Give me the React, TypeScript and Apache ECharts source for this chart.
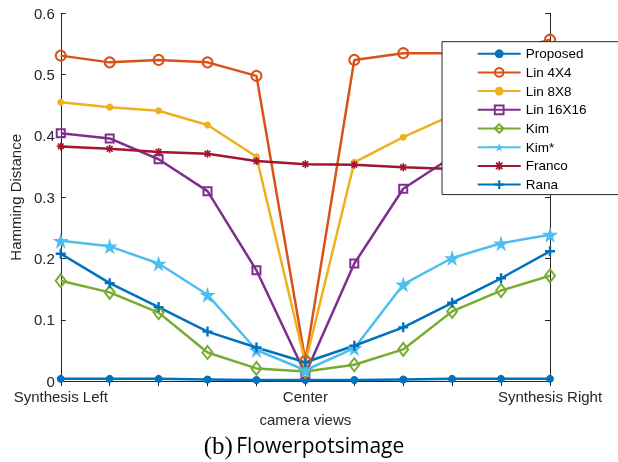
import React, { useEffect, useRef } from "react";
import * as echarts from "echarts";

// Camera view positions along the x axis (only three are labelled)
const views = ["Synthesis Left", "", "", "", "", "Center", "", "", "", "", "Synthesis Right"];

// Hamming distance per method
const proposed = [0.004, 0.004, 0.004, 0.003, 0.002, 0.002, 0.002, 0.003, 0.004, 0.004, 0.004];
const lin4 = [0.531, 0.52, 0.524, 0.52, 0.498, 0.033, 0.524, 0.535, 0.535, 0.536, 0.557];
const lin8 = [0.455, 0.447, 0.441, 0.418, 0.366, 0.03, 0.357, 0.398, 0.434, 0.455, 0.47];
const lin16 = [0.4045, 0.396, 0.362, 0.31, 0.181, 0.012, 0.192, 0.314, 0.366, 0.385, 0.4];
const kim = [0.164, 0.145, 0.112, 0.047, 0.021, 0.016, 0.027, 0.052, 0.114, 0.148, 0.172];
const kimStar = [0.229, 0.22, 0.192, 0.141, 0.051, 0.018, 0.054, 0.158, 0.201, 0.225, 0.239];
const franco = [0.383, 0.379, 0.374, 0.371, 0.359, 0.354, 0.353, 0.349, 0.346, 0.345, 0.343];
const rana = [0.208, 0.16, 0.121, 0.081, 0.055, 0.031, 0.058, 0.088, 0.128, 0.168, 0.212];

const STAR = "path://M50,0 L61,35 L98,35 L68,57 L79,91 L50,70 L21,91 L32,57 L2,35 L39,35 Z";
const PLUS = "path://M38,0H62V38H100V62H62V100H38V62H0V38H38Z";
const ASTERISK =
  "path://M40,0H60V100H40Z M0,40H100V60H0Z M7,21L21,7L93,79L79,93Z M79,7L93,21L21,93L7,79Z";

const FONT = "Liberation Sans, Arial, Helvetica, sans-serif";
const AXIS = "#262626";

export default function App() {
  const ref = useRef<HTMLDivElement>(null);

  useEffect(() => {
    if (!ref.current) return;
    const chart = echarts.init(ref.current, null, { renderer: "svg" });

    const mk = (
      name: string,
      data: number[],
      color: string,
      symbol: string,
      size: number | number[],
      hollow = false
    ) => ({
      name,
      type: "line",
      data,
      symbol,
      symbolSize: size,
      showSymbol: true,
      lineStyle: { color, width: 2.5 },
      itemStyle: hollow
        ? { color: "rgba(255,255,255,0)", borderColor: color, borderWidth: 2 }
        : { color, borderWidth: 0 },
      emphasis: { disabled: true },
    });

    const tickAxis = {
      axisLine: { show: true, lineStyle: { color: AXIS, width: 1 } },
      axisTick: { show: true, inside: true, length: 5, lineStyle: { color: AXIS } },
      splitLine: { show: false },
    };

    chart.setOption({
      animation: false,
      textStyle: { fontFamily: FONT },
      grid: { left: 57, right: 68, top: 13.3, bottom: 80.7 },
      xAxis: [
        {
          type: "category",
          data: views,
          boundaryGap: false,
          ...tickAxis,
          axisTick: { ...tickAxis.axisTick, interval: 0 },
          axisLabel: { interval: 0, fontSize: 15, color: AXIS, margin: 8, fontFamily: FONT },
          name: "camera views",
          nameLocation: "middle",
          nameGap: 31,
          nameTextStyle: { fontSize: 15, color: AXIS, fontFamily: FONT },
        },
        {
          type: "category",
          data: views,
          boundaryGap: false,
          position: "top",
          ...tickAxis,
          axisTick: { ...tickAxis.axisTick, interval: 0 },
          axisLabel: { show: false },
        },
      ],
      yAxis: [
        {
          type: "value",
          min: 0,
          max: 0.6,
          interval: 0.1,
          ...tickAxis,
          axisLabel: { fontSize: 15, color: AXIS, margin: 6, fontFamily: FONT },
          name: "Hamming Distance",
          nameLocation: "middle",
          nameGap: 31,
          nameTextStyle: { fontSize: 15, color: AXIS, fontFamily: FONT },
        },
        {
          type: "value",
          min: 0,
          max: 0.6,
          interval: 0.1,
          position: "right",
          ...tickAxis,
          axisLabel: { show: false },
        },
      ],
      legend: {
        orient: "vertical",
        left: 442,
        top: 41.7,
        padding: [5, 200, 3, 34.7],
        itemWidth: 43,
        itemHeight: 11,
        itemGap: 4.7,
        backgroundColor: "#ffffff",
        borderColor: "#262626",
        borderWidth: 1,
        borderRadius: 0,
        textStyle: { fontSize: 13.5, color: "#000", fontFamily: FONT },
        data: ["Proposed", "Lin 4X4", "Lin 8X8", "Lin 16X16", "Kim", "Kim*", "Franco", "Rana"],
      },
      graphic: [
        {
          type: "text",
          x: 304,
          y: 445,
          style: {
            text: "{a|(b)} {b|Flowerpotsimage}",
            align: "center",
            verticalAlign: "middle",
            rich: {
              a: { fontFamily: "Liberation Serif, serif", fontSize: 25, fill: "#000" },
              b: { fontFamily: "Open Sans, sans-serif", fontSize: 21, fill: "#000" },
            },
          },
        },
      ],
      series: [
        mk("Proposed", proposed, "#0072BD", "circle", 8),
        mk("Lin 4X4", lin4, "#D95319", "circle", 10, true),
        mk("Lin 8X8", lin8, "#EDB120", "circle", 7),
        mk("Lin 16X16", lin16, "#7E2F8E", "rect", 8, true),
        mk("Kim", kim, "#77AC30", "diamond", [10, 13], true),
        mk("Kim*", kimStar, "#4DBEEE", STAR, 16),
        mk("Franco", franco, "#A2142F", ASTERISK, 8),
        mk("Rana", rana, "#0072BD", PLUS, 10),
      ],
    });

    return () => chart.dispose();
  }, []);

  return (
    <div
      ref={ref}
      style={{ position: "fixed", left: 0, top: 0, width: 618, height: 462 }}
    />
  );
}
